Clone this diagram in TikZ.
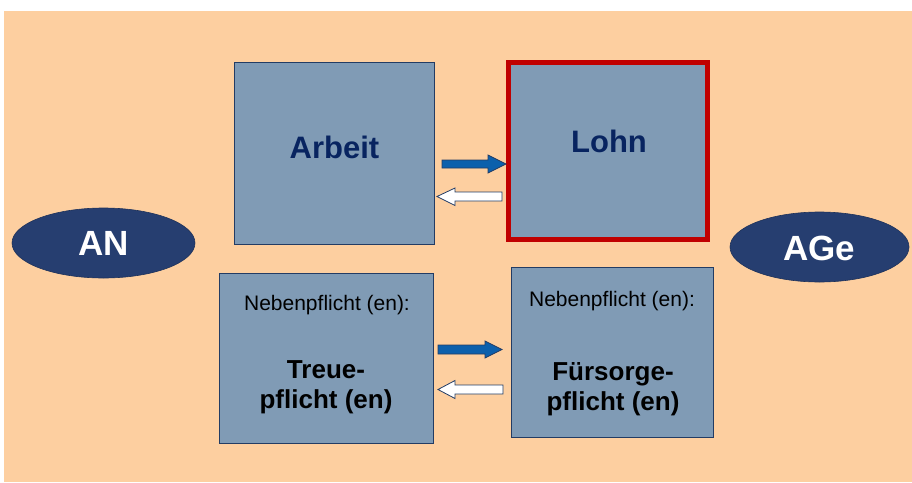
\documentclass[tikz,border=0pt]{standalone}
\usepackage{fontspec}
\setmainfont{Liberation Sans}
\usetikzlibrary{shapes.geometric}
\definecolor{bgorange}{RGB}{253,207,160}
\definecolor{boxfill}{RGB}{128,155,181}
\definecolor{boxline}{RGB}{35,60,100}
\definecolor{ellfill}{RGB}{38,62,112}
\definecolor{arrblue}{RGB}{12,96,172}
\definecolor{txtblue}{RGB}{8,36,96}
\definecolor{lohnred}{RGB}{192,0,0}
\tikzset{
  box/.style={draw=boxline, line width=0.8pt, fill=boxfill, inner sep=0pt},
  oval/.style={ellipse, fill=ellfill, draw=ellfill!80!black, line width=0.6pt, inner sep=0pt},
  bluearr/.style={fill=arrblue, draw=boxline, line width=0.8pt, line join=miter},
  whitearr/.style={fill=white, draw=boxline, line width=0.8pt, line join=miter},
  bigtxt/.style={font=\bfseries\fontsize{31}{36}\selectfont, text=txtblue, inner sep=0pt},
  ovaltxt/.style={font=\bfseries\fontsize{35}{40}\selectfont, text=white, inner sep=0pt},
  smalltxt/.style={font=\fontsize{21}{25}\selectfont, text=black, inner sep=0pt},
  boldtxt/.style={font=\bfseries\fontsize{26}{30}\selectfont, text=black, inner sep=0pt, align=center},
}
\begin{document}
\begin{tikzpicture}[x=1pt,y=-1pt]
\useasboundingbox (0,0) rectangle (912,482);
\fill[bgorange] (4,11) rectangle (912,482);
% boxes
\node[box, minimum width=200pt, minimum height=182pt] (arbeit) at (334,153) {};
\node[draw=lohnred, line width=5pt, fill=boxfill, inner sep=0pt, minimum width=199pt, minimum height=177pt] (lohn) at (608,151) {};
\node[box, minimum width=214pt, minimum height=170pt] (treue) at (326,358) {};
\node[box, minimum width=202pt, minimum height=170pt] (fuer) at (612.5,352) {};
% ovals
\node[oval, minimum width=183pt, minimum height=70pt] (an) at (103.5,243) {};
\node[oval, minimum width=179pt, minimum height=70pt] (age) at (819.5,247) {};
% texts
\node[bigtxt] (tarbeit) at (334.5,147) {Arbeit};
\node[bigtxt] (tlohn) at (609,141) {Lohn};
\node[ovaltxt] (tan) at (104,243.5) {AN};
\node[ovaltxt] (tage) at (819,248) {AGe};
\node[smalltxt] (tneb1) at (327,305) {Nebenpflicht (en):};
\node[smalltxt] (tneb2) at (612,301) {Nebenpflicht (en):};
\node[boldtxt] (ttreue) at (326,387.5) {Treue-\\pflicht (en)};
\node[boldtxt] (tfuer) at (613,389) {Fürsorge-\\pflicht (en)};
% block arrows
\coordinate (a2) at (506,164);
\draw[bluearr] (442,160) -- (488,160) -- (488,155) -- (a2) -- (488,173) -- (488,168) -- (442,168) -- cycle;
\coordinate (b2) at (437,196.5);
\draw[whitearr] (b2) -- (455,188) -- (455,192) -- (502,192) -- (502,201) -- (455,201) -- (455,205.5) -- cycle;
\coordinate (c2) at (502,349.5);
\draw[bluearr] (438,345) -- (485,345) -- (485,341) -- (c2) -- (485,358) -- (485,354) -- (438,354) -- cycle;
\coordinate (d2) at (438,389.5);
\draw[whitearr] (d2) -- (455,380.5) -- (455,385) -- (503,385) -- (503,394) -- (455,394) -- (455,398.5) -- cycle;
\end{tikzpicture}
\end{document}
